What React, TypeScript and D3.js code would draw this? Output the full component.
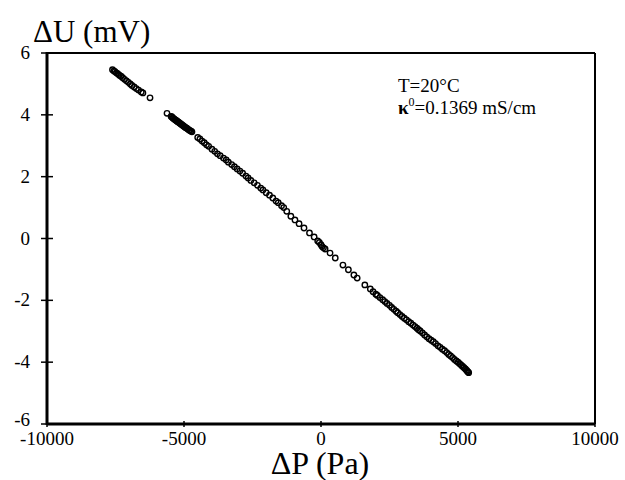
import React from "react";
import { scaleLinear } from "d3";

// ΔP (Pa) readings
const pressure = [
  -7610, -7560, -7520, -7470, -7420, -7360, -7300, -7240, -7170, -7100, -7030, -6960, -6900, -6820, -6740, -6660, -6560, -6500,
  -6240, -5620,
  -5470, -5440, -5410, -5380, -5350, -5320, -5290, -5260, -5230, -5200, -5170, -5140, -5110, -5080, -5050, -5020, -4990, -4960, -4930, -4900, -4860, -4820, -4780, -4740, -4710,
  -4500, -4420, -4340, -4260, -4180, -4100, -3980, -3880, -3780, -3680, -3560, -3460, -3380, -3260, -3160, -3060, -2960, -2860, -2740, -2660, -2560, -2440, -2320, -2200, -2120, -2000, -1880, -1760, -1640, -1560, -1440, -1360, -1250,
  -1100, -950, -800, -620, -420, -250, -120, -60, 0, 40, 90, 150, 330, 520, 800, 1000, 1200, 1320, 1600,
  1800, 1900, 2000, 2060, 2150, 2250, 2330, 2410, 2500, 2580, 2660, 2740, 2800, 2880, 2960, 3040, 3120, 3200, 3280, 3360, 3430, 3500, 3560, 3620, 3700, 3780, 3860, 3940, 4020, 4100, 4180, 4270, 4350, 4430, 4510, 4590, 4660, 4730, 4800, 4870, 4940, 5000, 5060, 5120, 5170, 5220, 5270, 5310, 5340, 5370, 5390,
];

// ΔU (mV) readings, same order
const voltage = [
  5.46, 5.42, 5.4, 5.36, 5.33, 5.28, 5.25, 5.2, 5.15, 5.1, 5.05, 5.0, 4.95, 4.9, 4.85, 4.8, 4.74, 4.71,
  4.55, 4.05,
  3.95, 3.93, 3.9, 3.88, 3.86, 3.84, 3.82, 3.8, 3.78, 3.76, 3.74, 3.72, 3.7, 3.68, 3.66, 3.64, 3.62, 3.6, 3.58, 3.57, 3.54, 3.51, 3.49, 3.47, 3.45,
  3.27, 3.22, 3.15, 3.1, 3.03, 2.98, 2.89, 2.82, 2.74, 2.68, 2.6, 2.54, 2.47, 2.39, 2.32, 2.25, 2.18, 2.11, 2.02, 1.96, 1.88, 1.8, 1.72, 1.63, 1.57, 1.48, 1.4, 1.31, 1.21, 1.16, 1.06, 1.0, 0.88,
  0.72, 0.6, 0.48, 0.34, 0.18, 0.05, -0.08, -0.13, -0.2, -0.26, -0.3, -0.34, -0.47, -0.63, -0.86, -1.01, -1.18, -1.28, -1.5,
  -1.63, -1.72, -1.8, -1.84, -1.91, -1.98, -2.04, -2.1, -2.16, -2.23, -2.29, -2.35, -2.4, -2.46, -2.52, -2.58, -2.63, -2.69, -2.74, -2.8, -2.85, -2.9, -2.95, -2.99, -3.05, -3.12, -3.18, -3.24, -3.29, -3.34, -3.4, -3.47, -3.52, -3.58, -3.63, -3.69, -3.75, -3.8, -3.85, -3.91, -3.96, -4.0, -4.05, -4.1, -4.14, -4.18, -4.22, -4.26, -4.29, -4.32, -4.34,
];

const xTicks = [-10000, -5000, 0, 5000, 10000];
const yTicks = [-6, -4, -2, 0, 2, 4, 6];

const serif = "Liberation Serif";

export default function App() {
  const width = 625;
  const height = 480;
  const x = scaleLinear().domain([-10000, 10000]).range([47, 595]);
  const y = scaleLinear().domain([-6, 6]).range([424, 53]);

  return (
    <svg width={width} height={height} style={{ position: "absolute", left: 0, top: 0, background: "#fff" }}>
      <rect width={width} height={height} fill="#fff" />

      {/* frame */}
      <line x1={x(-10000)} x2={x(10000)} y1={y(6)} y2={y(6)} stroke="#000" strokeWidth={2} />
      <line x1={x(10000)} x2={x(10000)} y1={y(6)} y2={y(-6)} stroke="#000" strokeWidth={2} />
      <line x1={x(-10000)} x2={x(10000)} y1={y(-6)} y2={y(-6)} stroke="#000" strokeWidth={3} />
      <line x1={x(-10000)} x2={x(-10000)} y1={y(6) - 1} y2={y(-6) + 1} stroke="#000" strokeWidth={3} />

      {/* y ticks */}
      {yTicks.map((t) => (
        <g key={t}>
          <line x1={x(-10000) - 6} x2={x(-10000) + 6} y1={y(t)} y2={y(t)} stroke="#000" strokeWidth={1.5} />
          <text x={30} y={y(t) + (t === -6 ? 2 : 6)} textAnchor="end" fontSize={19} fontFamily={serif}>
            {t}
          </text>
        </g>
      ))}

      {/* x ticks */}
      {xTicks.map((t) => (
        <g key={t}>
          <line x1={x(t)} x2={x(t)} y1={y(-6) - 3} y2={y(-6) + 3} stroke="#000" strokeWidth={1.5} />
          <text x={x(t)} y={445} textAnchor="middle" fontSize={19} fontFamily={serif}>
            {t}
          </text>
        </g>
      ))}

      {/* data */}
      {pressure.map((p, i) => (
        <circle
          key={i}
          cx={x(p)}
          cy={y(voltage[i])}
          r={2.7}
          fill="none"
          stroke="#000"
          strokeWidth={1.4}
        />
      ))}

      {/* axis titles */}
      <text x={33} y={42} fontSize={31} fontFamily={serif}>
        ΔU (mV)
      </text>
      <text x={320} y={474} fontSize={32} textAnchor="middle" fontFamily={serif}>
        ΔP (Pa)
      </text>

      {/* annotation */}
      <text x={398} y={92} fontSize={19} fontFamily={serif}>
        T=20°C
      </text>
      <text x={398} y={114} fontSize={19} fontFamily={serif}>
        <tspan fontWeight="bold">κ</tspan>
        <tspan fontSize={12} dy={-8}>0</tspan>
        <tspan dy={8}>=0.1369 mS/cm</tspan>
      </text>
    </svg>
  );
}
